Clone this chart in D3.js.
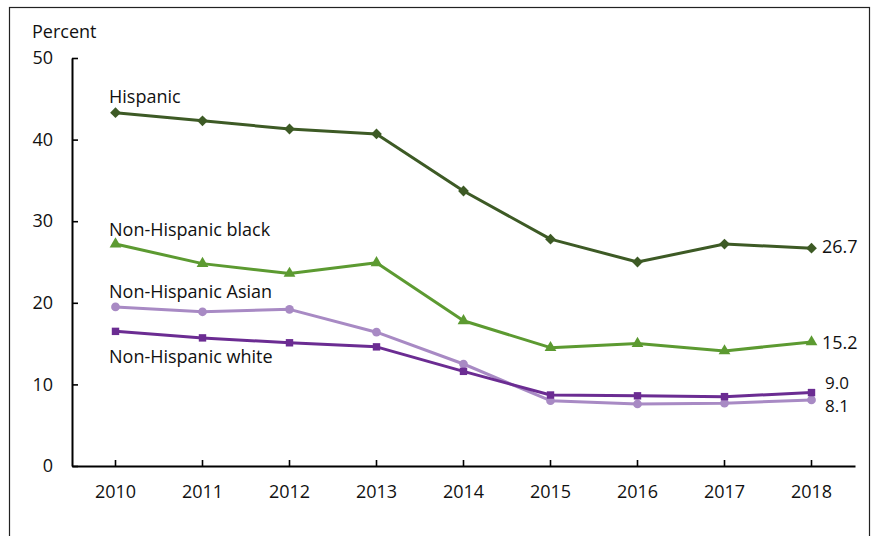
<!DOCTYPE html>
<html>
<head>
<meta charset="utf-8">
<script src="https://cdn.jsdelivr.net/npm/d3@7"></script>
<style>
  body { margin: 0; background: #fff; }
  text { font-family: "Open Sans", sans-serif; fill: #111; }
</style>
</head>
<body>
<div id="chart"></div>
<script>
// data
var years = ["2010", "2011", "2012", "2013", "2014", "2015", "2016", "2017", "2018"];
var hispanic = [43.3, 42.3, 41.3, 40.7, 33.7, 27.8, 25.0, 27.2, 26.7];
var black = [27.2, 24.8, 23.6, 24.9, 17.8, 14.5, 15.0, 14.1, 15.2];
var asian = [19.5, 18.9, 19.2, 16.4, 12.5, 8.0, 7.6, 7.7, 8.1];
var white = [16.5, 15.7, 15.1, 14.6, 11.6, 8.7, 8.6, 8.5, 9.0];
var yTicks = [0, 10, 20, 30, 40, 50];

var series = [
  { name: "Hispanic", values: hispanic, color: "#3d5a25", symbol: d3.symbolSquare, rot: 45, size: 58, lx: 109, ly: 97, end: "26.7", ex: 822, ey: 247, fs: 18 },
  { name: "Non-Hispanic black", values: black, color: "#5c9a31", symbol: d3.symbolTriangle, rot: 0, size: 60, lx: 109, ly: 230, end: "15.2", ex: 822, ey: 343, fs: 18 },
  { name: "Non-Hispanic Asian", values: asian, color: "#a88ac4", symbol: d3.symbolCircle, rot: 0, size: 60, lx: 109, ly: 292, end: "8.1", ex: 825, ey: 406, fs: 17 },
  { name: "Non-Hispanic white", values: white, color: "#6b2c92", symbol: d3.symbolSquare, rot: 0, size: 55, lx: 109, ly: 357, end: "9.0", ex: 825, ey: 383, fs: 17 }
];

var W = 872, H = 536;
var svg = d3.select("#chart").append("svg")
  .attr("width", W)
  .attr("height", H);

// frame
svg.append("rect")
  .attr("x", 9.5).attr("y", 7.5)
  .attr("width", 860).attr("height", 560)
  .attr("fill", "none")
  .attr("stroke", "#222")
  .attr("stroke-width", 1.2);

var x = d3.scaleBand()
  .domain(years)
  .range([72, 855]);

var y = d3.scaleLinear()
  .domain([0, 50])
  .range([466, 58]);

function cx(i) { return x(years[i]) + x.bandwidth() / 2; }

// axes
var yaxis = svg.append("g")
  .attr("transform", "translate(72,0)")
  .call(d3.axisLeft(y).tickValues(yTicks).tickSizeInner(-6).tickSizeOuter(0).tickPadding(19));

var xaxis = svg.append("g")
  .attr("transform", "translate(0,466)")
  .call(d3.axisBottom(x).tickSizeInner(-6).tickSizeOuter(0).tickPadding(19));

[yaxis, xaxis].forEach(function (g) {
  g.select(".domain").attr("stroke", "#000").attr("stroke-width", 2);
  g.selectAll(".tick line").attr("stroke", "#000").attr("stroke-width", 1.6);
  g.selectAll(".tick text")
    .style("font-family", "'Open Sans', sans-serif")
    .style("font-size", "18px")
    .attr("fill", "#111");
});

svg.append("text")
  .attr("x", 32)
  .attr("y", 38)
  .style("font-size", "18px")
  .text("Percent");

var line = d3.line()
  .x(function (d, i) { return cx(i); })
  .y(function (d) { return y(d); });

// draw lighter purple before darker one so darker is on top
var drawOrder = [series[2], series[3], series[1], series[0]];

drawOrder.forEach(function (s) {
  var g = svg.append("g");

  g.append("path")
    .datum(s.values)
    .attr("fill", "none")
    .attr("stroke", s.color)
    .attr("stroke-width", 3)
    .attr("stroke-linejoin", "round")
    .attr("d", line);

  g.selectAll(".pt")
    .data(s.values)
    .enter()
    .append("path")
    .attr("class", "pt")
    .attr("fill", s.color)
    .attr("transform", function (d, i) {
      return "translate(" + cx(i) + "," + y(d) + ") rotate(" + s.rot + ")";
    })
    .attr("d", d3.symbol().type(s.symbol).size(s.size));

  g.append("text")
    .attr("x", s.lx)
    .attr("y", s.ly)
    .attr("dy", "0.35em")
    .style("font-size", "18px")
    .text(s.name);
});

// end values
series.forEach(function (s) {
  svg.append("text")
    .attr("x", s.ex)
    .attr("y", s.ey)
    .attr("dy", "0.35em")
    .style("font-size", s.fs + "px")
    .text(s.end);
});
</script>
</body>
</html>
